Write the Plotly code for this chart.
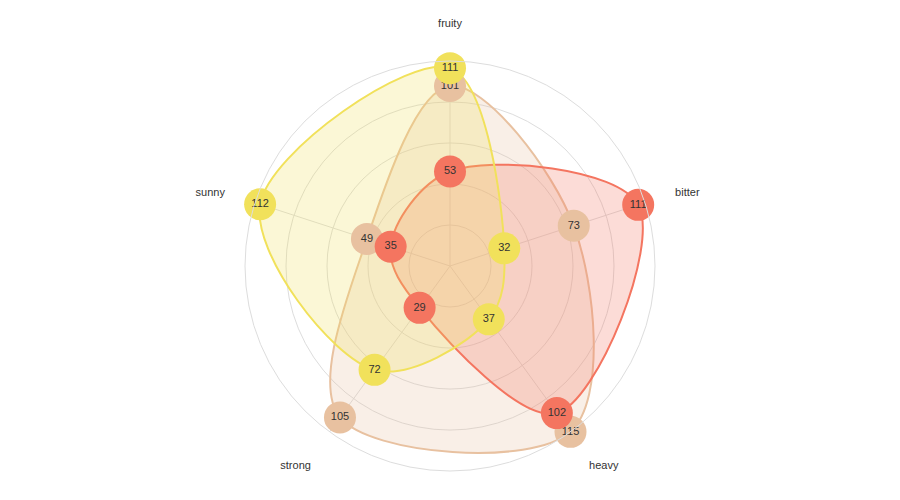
import plotly.graph_objects as go

categories = ["fruity", "bitter", "heavy", "strong", "sunny"]
series_names = ["chardonay", "carmenere", "syrah"]
tan_values = [101, 73, 115, 105, 49]
red_values = [53, 111, 102, 29, 35]
yellow_values = [111, 32, 37, 72, 112]
grid_levels = [23, 46, 69, 92, 115]

series = [
    (series_names[0], tan_values, "#e8c1a0", "rgba(232,193,160,0.25)"),
    (series_names[1], red_values, "#f47560", "rgba(244,117,96,0.25)"),
    (series_names[2], yellow_values, "#f1e15b", "rgba(241,225,91,0.25)"),
]

fig = go.Figure()
FONT = "Liberation Sans, Arial, sans-serif"

for name, vals, col, fillc in series:
    fig.add_trace(go.Scatterpolar(
        r=vals + vals[:1], theta=categories + categories[:1],
        mode="lines", fill="toself", fillcolor=fillc,
        line=dict(color=col, width=2, shape="spline", smoothing=1),
        name=name, showlegend=False, hoverinfo="skip",
    ))

for name, vals, col, fillc in series:
    fig.add_trace(go.Scatterpolar(
        r=vals, theta=categories,
        mode="markers+text", text=[str(v) for v in vals],
        textposition="middle center",
        textfont=dict(size=11, color="#333333", family=FONT),
        marker=dict(size=32, color=col, line=dict(width=0)),
        name=name, showlegend=False,
    ))

fig.update_layout(
    width=900, height=500,
    margin=dict(l=0, r=16, t=53, b=37),
    paper_bgcolor="white",
    font=dict(family=FONT, size=11, color="#333333"),
    polar=dict(
        bgcolor="white",
        radialaxis=dict(range=[0, 115], tickvals=grid_levels[:-1], showticklabels=False,
                        showline=False, ticks="", gridcolor="#dddddd", gridwidth=1),
        angularaxis=dict(categoryorder="array", categoryarray=categories,
                         direction="clockwise", rotation=90,
                         showline=True, linecolor="#dddddd", linewidth=1,
                         gridcolor="#dddddd", gridwidth=1,
                         ticks="outside", ticklen=29, tickcolor="rgba(0,0,0,0)",
                         tickfont=dict(size=11, color="#333333", family=FONT)),
    ),
)

fig.write_html("out.html")
